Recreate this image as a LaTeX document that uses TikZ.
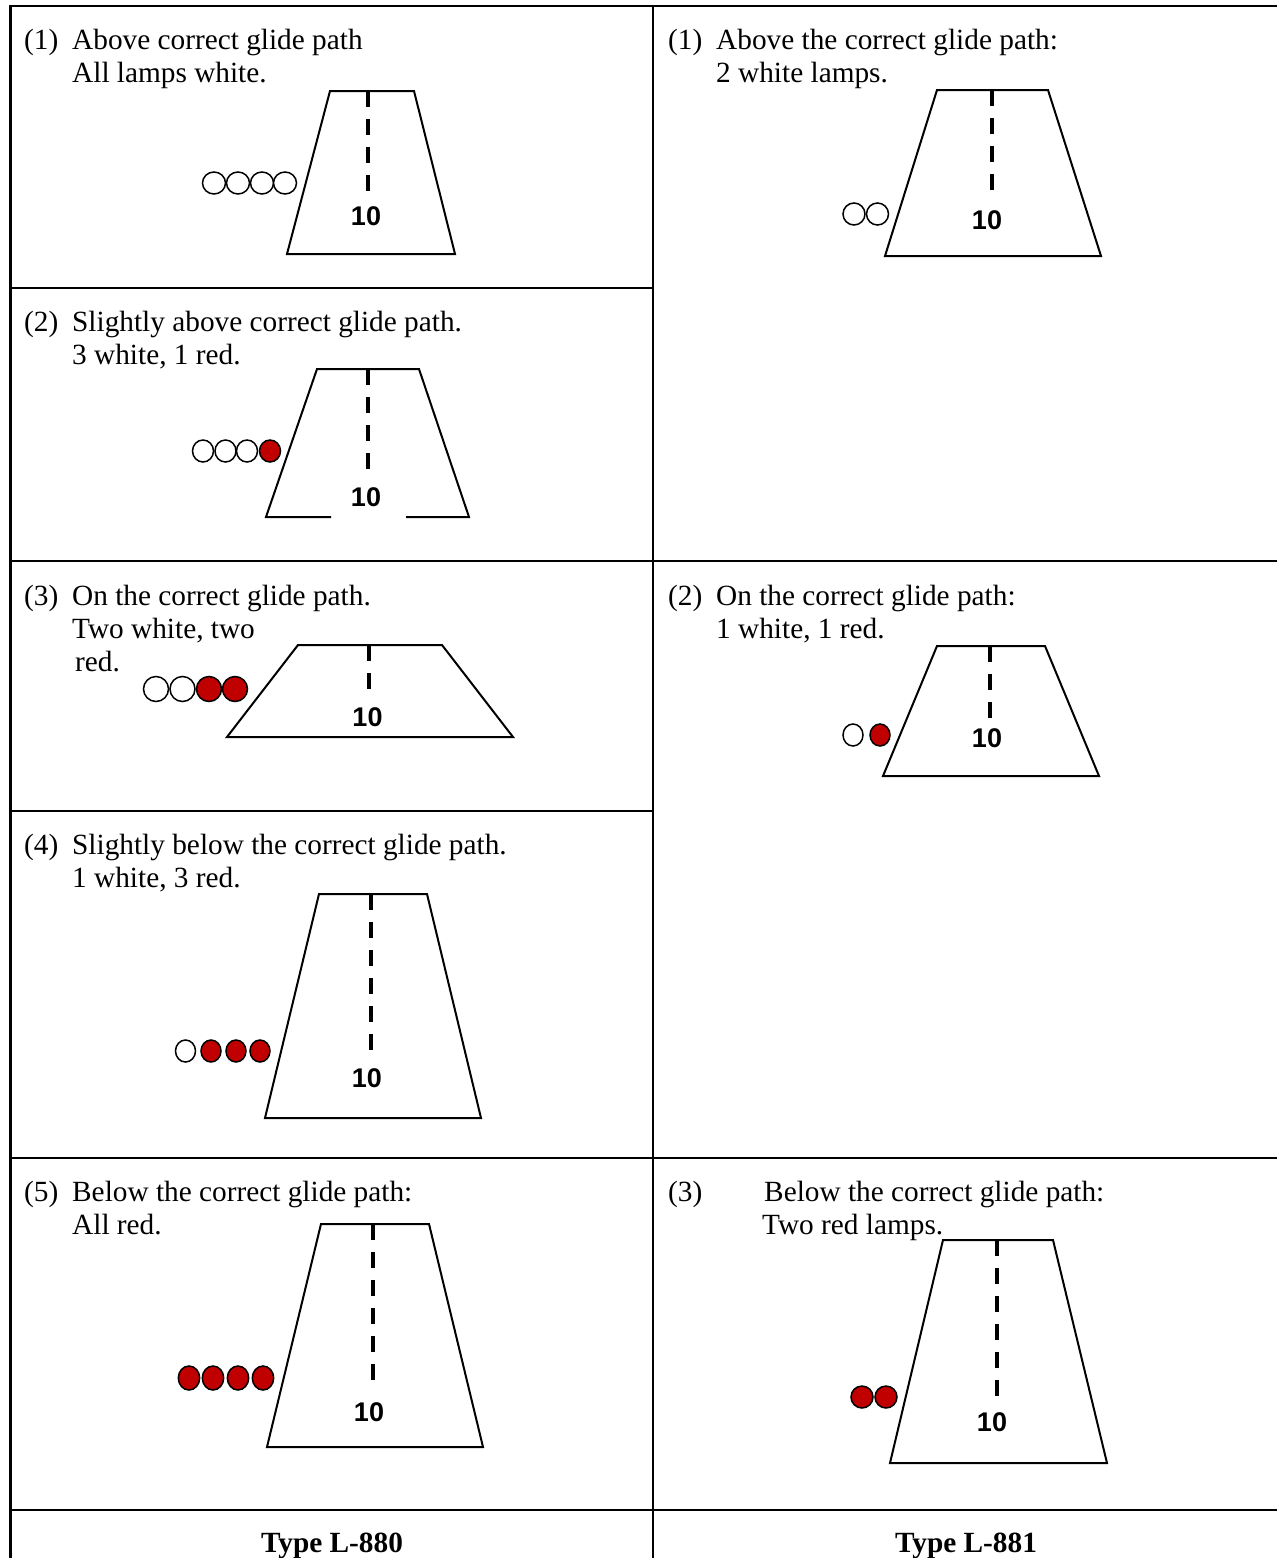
\documentclass[tikz,border=0pt]{standalone}
\usepackage{fontspec}
\setmainfont{Liberation Serif}
\newfontfamily\arialfont{Liberation Sans}
\definecolor{lampred}{RGB}{192,0,0}
\tikzset{
  gridline/.style={line width=2.2pt},
  runway/.style={line width=2pt, line join=miter},
  centerline/.style={line width=4pt, dash pattern=on 16pt off 12pt},
  lampw/.style={draw=black, fill=white, line width=1.5pt},
  lampr/.style={draw=black, fill=lampred, line width=1.5pt},
  lbl/.style={anchor=base west, inner sep=0pt, font=\fontsize{29.3}{33}\selectfont},
  foot/.style={anchor=base, inner sep=0pt, font=\fontsize{29.3}{33}\selectfont\bfseries},
  num/.style={inner sep=0pt, font=\fontsize{27}{30}\selectfont\arialfont\bfseries}
}
\begin{document}
\begin{tikzpicture}[x=1pt,y=-1pt]
\useasboundingbox (0,0) rectangle (1277,1558);
\fill[white] (0,0) rectangle (1277,1558);
% table grid
\draw[gridline] (1277,6) -- (10.5,6) -- (10.5,1558);
\draw[gridline] (653,6) -- (653,1558);
\draw[gridline] (10.5,288) -- (653,288);
\draw[gridline] (10.5,561) -- (1277,561);
\draw[gridline] (10.5,811) -- (653,811);
\draw[gridline] (10.5,1158) -- (1277,1158);
\draw[gridline] (10.5,1510) -- (1277,1510);

% ---- Left panel 1
\node[lbl] (l1n) at (24,49) {(1)};
\node[lbl] (l1a) at (72,49) {Above correct glide path};
\node[lbl] (l1b) at (72,82) {All lamps white.};
\draw[runway] (287,254) -- (330,91) -- (414,91) -- (455,254) -- cycle;
\draw[centerline] (368,91) -- (368,191);
\node[num] (l1num) at (366,216) {10};
\draw[lampw] (214,183) ellipse [x radius=11.5pt, y radius=11pt];
\draw[lampw] (238,183) ellipse [x radius=11.5pt, y radius=11pt];
\draw[lampw] (262,183) ellipse [x radius=11.5pt, y radius=11pt];
\draw[lampw] (285,183) ellipse [x radius=11.5pt, y radius=11pt];

% ---- Left panel 2
\node[lbl] (l2n) at (24,331) {(2)};
\node[lbl] (l2a) at (72,331) {Slightly above correct glide path.};
\node[lbl] (l2b) at (72,364) {3 white, 1 red.};
\draw[runway] (331,517) -- (266,517) -- (317,369) -- (419,369) -- (469,517) -- (406,517);
\draw[centerline] (368,369) -- (368,470);
\node[num] (l2num) at (366,497) {10};
\draw[lampw] (203,451) ellipse [x radius=10.5pt, y radius=11pt];
\draw[lampw] (225.5,451) ellipse [x radius=10.5pt, y radius=11pt];
\draw[lampw] (247,451) ellipse [x radius=10.5pt, y radius=11pt];
\draw[lampr] (270,451) ellipse [x radius=10.5pt, y radius=11pt];

% ---- Left panel 3
\node[lbl] (l3n) at (24,605) {(3)};
\node[lbl] (l3a) at (72,605) {On the correct glide path.};
\node[lbl] (l3b) at (72,638) {Two white, two};
\node[lbl] (l3c) at (75,671) {red.};
\draw[runway] (227,737) -- (298,645) -- (442,645) -- (513,737) -- cycle;
\draw[centerline] (369,645) -- (369,689);
\node[num] (l3num) at (367.5,717) {10};
\draw[lampw] (156,689) ellipse [x radius=12.5pt, y radius=12.5pt];
\draw[lampw] (182.5,689) ellipse [x radius=12.5pt, y radius=12.5pt];
\draw[lampr] (209,689) ellipse [x radius=12.5pt, y radius=12.5pt];
\draw[lampr] (235,689) ellipse [x radius=12.5pt, y radius=12.5pt];

% ---- Left panel 4
\node[lbl] (l4n) at (24,854) {(4)};
\node[lbl] (l4a) at (72,854) {Slightly below the correct glide path.};
\node[lbl] (l4b) at (72,887) {1 white, 3 red.};
\draw[runway] (265,1118) -- (319,894) -- (427,894) -- (481,1118) -- cycle;
\draw[centerline] (371,894) -- (371,1052);
\node[num] (l4num) at (367,1078) {10};
\draw[lampw] (185.5,1051) ellipse [x radius=10pt, y radius=11pt];
\draw[lampr] (211,1051) ellipse [x radius=10pt, y radius=11pt];
\draw[lampr] (236,1051) ellipse [x radius=10pt, y radius=11pt];
\draw[lampr] (260,1051) ellipse [x radius=10pt, y radius=11pt];

% ---- Left panel 5
\node[lbl] (l5n) at (24,1201) {(5)};
\node[lbl] (l5a) at (72,1201) {Below the correct glide path:};
\node[lbl] (l5b) at (72,1234) {All red.};
\draw[runway] (267,1447) -- (321,1224) -- (429,1224) -- (483,1447) -- cycle;
\draw[centerline] (373,1224) -- (373,1383);
\node[num] (l5num) at (369,1412) {10};
\draw[lampr] (189,1378) ellipse [x radius=10.7pt, y radius=12pt];
\draw[lampr] (213,1378) ellipse [x radius=10.7pt, y radius=12pt];
\draw[lampr] (238,1378) ellipse [x radius=10.7pt, y radius=12pt];
\draw[lampr] (263,1378) ellipse [x radius=10.7pt, y radius=12pt];

% ---- Right panel 1
\node[lbl] (r1n) at (668,49) {(1)};
\node[lbl] (r1a) at (716,49) {Above the correct glide path:};
\node[lbl] (r1b) at (716,82) {2 white lamps.};
\draw[runway] (885,256) -- (937,90) -- (1048,90) -- (1101,256) -- cycle;
\draw[centerline] (992,90) -- (992,191);
\node[num] (r1num) at (987,220) {10};
\draw[lampw] (854,214) ellipse [x radius=11pt, y radius=11pt];
\draw[lampw] (877.5,214) ellipse [x radius=11pt, y radius=11pt];

% ---- Right panel 2
\node[lbl] (r2n) at (668,605) {(2)};
\node[lbl] (r2a) at (716,605) {On the correct glide path:};
\node[lbl] (r2b) at (716,638) {1 white, 1 red.};
\draw[runway] (883,776) -- (937,646) -- (1045,646) -- (1099,776) -- cycle;
\draw[centerline] (990,646) -- (990,718);
\node[num] (r2num) at (987,738) {10};
\draw[lampw] (853,735) ellipse [x radius=10pt, y radius=11pt];
\draw[lampr] (880,735) ellipse [x radius=10pt, y radius=11pt];

% ---- Right panel 3
\node[lbl] (r3n) at (668,1201) {(3)};
\node[lbl] (r3a) at (764,1201) {Below the correct glide path:};
\node[lbl] (r3b) at (762,1234) {Two red lamps.};
\draw[runway] (890,1463) -- (943,1240) -- (1053,1240) -- (1107,1463) -- cycle;
\draw[centerline] (997,1240) -- (997,1396);
\node[num] (r3num) at (992,1422) {10};
\draw[lampr] (862,1397) ellipse [x radius=11pt, y radius=11pt];
\draw[lampr] (886,1397) ellipse [x radius=11pt, y radius=11pt];

% ---- Footer
\node[foot] (f1) at (332,1552) {Type L-880};
\node[foot] (f2) at (966,1552) {Type L-881};
\end{tikzpicture}
\end{document}
